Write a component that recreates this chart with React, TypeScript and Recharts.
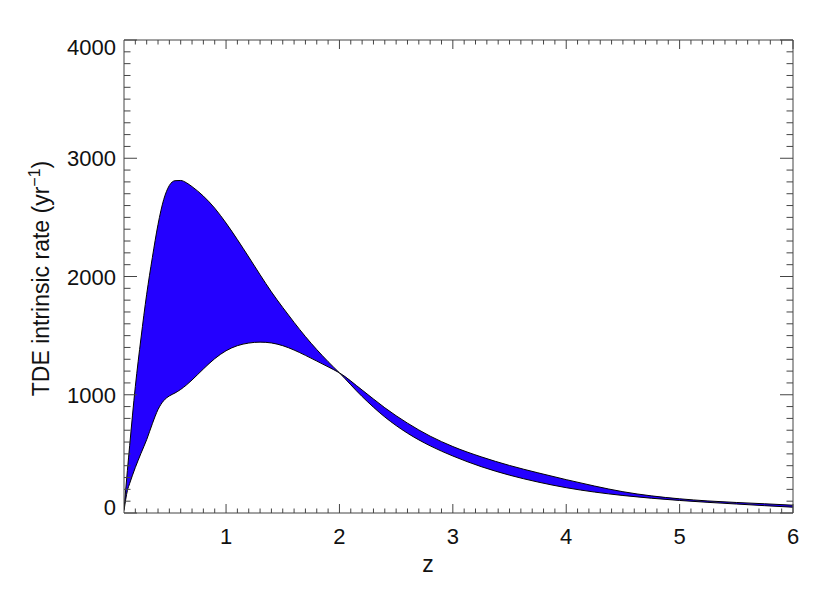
import React from 'react';
import { ComposedChart, Area, Line, XAxis, YAxis, Label } from 'recharts';

// redshift grid
const zValues = [
  0.1, 0.13, 0.15, 0.2, 0.25, 0.3, 0.35, 0.4, 0.45, 0.5, 0.55, 0.6, 0.65, 0.7, 0.8, 0.9,
  1.0, 1.1, 1.2, 1.3, 1.4, 1.5, 1.6, 1.7, 1.8, 1.9, 2.0, 2.2, 2.4, 2.6, 2.8, 3.0,
  3.25, 3.5, 3.75, 4.0, 4.25, 4.5, 4.75, 5.0, 5.25, 5.5, 5.75, 6.0,
];

// curve with the tall early peak
const highPeak = [
  30, 360, 570, 1070, 1480, 1850, 2160, 2440, 2650, 2770, 2810, 2812, 2793, 2760, 2680, 2578,
  2452, 2312, 2165, 2015, 1870, 1738, 1612, 1492, 1382, 1280, 1185, 985, 812, 675, 568, 482,
  392, 320, 262, 214, 177, 148, 125, 106, 90, 76, 62, 49,
];

// curve with the broad later peak
const lowPeak = [
  20, 190, 250, 385, 505, 620, 755, 875, 950, 990, 1015, 1045, 1082, 1125, 1218, 1305,
  1372, 1415, 1437, 1445, 1438, 1415, 1378, 1333, 1285, 1236, 1185, 1040, 890, 760, 650, 562,
  475, 402, 340, 282, 228, 180, 145, 120, 102, 89, 78, 66,
];

const xMajorTicks = [1, 2, 3, 4, 5, 6];
const yMajorTicks = [0, 1000, 2000, 3000, 4000];

// minor ticks: tenths of each major step
const xTicks: number[] = [];
for (let k = 2; k <= 60; k++) xTicks.push(k / 10);
const yTicks: number[] = [];
for (let k = 0; k <= 40; k++) yTicks.push(k * 100);

const data = zValues.map((z, i) => ({
  z,
  high: highPeak[i],
  low: lowPeak[i],
  band: [lowPeak[i], highPeak[i]],
}));

const FONT = '"Liberation Sans", Arial, sans-serif';
const AXIS = '#444';
const FILL = '#2400FF';

const isMajorX = (v: number) => xMajorTicks.some((m) => Math.abs(m - v) < 1e-6);
const isMajorY = (v: number) => yMajorTicks.includes(v);

const BottomTick = (props: any) => {
  const { x, y, payload } = props;
  const major = isMajorX(payload.value);
  return (
    <g>
      <line x1={x} y1={y} x2={x} y2={y - (major ? 9 : 4.5)} stroke={AXIS} strokeWidth={1} />
      {major && (
        <text x={x} y={y + 31} textAnchor="middle" fontSize={22} fontFamily={FONT} fill="#111">
          {payload.value}
        </text>
      )}
    </g>
  );
};

const TopTick = (props: any) => {
  const { x, y, payload } = props;
  const major = isMajorX(payload.value);
  return <line x1={x} y1={y} x2={x} y2={y + (major ? 9 : 4.5)} stroke={AXIS} strokeWidth={1} />;
};

const LeftTick = (props: any) => {
  const { x, y, payload } = props;
  const major = isMajorY(payload.value);
  let shift = 0;
  if (payload.value === 0) shift = -6;
  if (payload.value === 4000) shift = 7;
  return (
    <g>
      <line x1={x} y1={y} x2={x + (major ? 13 : 6.5)} y2={y} stroke={AXIS} strokeWidth={1} />
      {major && (
        <text x={x - 8} y={y + 8 + shift} textAnchor="end" fontSize={22} fontFamily={FONT} fill="#111">
          {payload.value}
        </text>
      )}
    </g>
  );
};

const RightTick = (props: any) => {
  const { x, y, payload } = props;
  const major = isMajorY(payload.value);
  return <line x1={x} y1={y} x2={x - (major ? 13 : 6.5)} y2={y} stroke={AXIS} strokeWidth={1} />;
};

const YTitle = (props: any) => {
  const vb = props.viewBox;
  const cx = 49;
  const cy = vb.y + vb.height / 2 + 2;
  return (
    <text
      x={cx}
      y={cy}
      transform={`rotate(-90, ${cx}, ${cy})`}
      textAnchor="middle"
      fontSize={23}
      fontFamily={FONT}
      fill="#111"
    >
      TDE intrinsic rate (yr
      <tspan dy={-9} fontSize={16}>−1</tspan>
      <tspan dy={9}>)</tspan>
    </text>
  );
};

const XTitle = (props: any) => {
  const vb = props.viewBox;
  return (
    <text x={428} y={vb.y + 59} textAnchor="middle" fontSize={23} fontFamily={FONT} fill="#111">
      z
    </text>
  );
};

export default function App() {
  return (
    <div style={{ position: 'absolute', left: 0, top: 0, background: '#fff' }}>
      <ComposedChart width={830} height={593} data={data} margin={{ top: 39, right: 36, bottom: 0, left: 0 }}>
        <XAxis
          dataKey="z"
          type="number"
          domain={[0.1, 6]}
          allowDataOverflow
          ticks={xTicks}
          interval={0}
          tickSize={0}
          tickMargin={0}
          tickLine={false}
          tick={BottomTick}
          axisLine={{ stroke: AXIS }}
          height={80}
        >
          <Label content={XTitle} />
        </XAxis>
        <XAxis
          xAxisId="top"
          orientation="top"
          dataKey="z"
          type="number"
          domain={[0.1, 6]}
          allowDataOverflow
          ticks={xTicks}
          interval={0}
          tickSize={0}
          tickMargin={0}
          tickLine={false}
          tick={TopTick}
          axisLine={{ stroke: AXIS }}
          height={1}
        />
        <YAxis
          type="number"
          domain={[0, 4000]}
          allowDataOverflow
          ticks={yTicks}
          interval={0}
          tickSize={0}
          tickMargin={0}
          tickLine={false}
          tick={LeftTick}
          axisLine={{ stroke: AXIS }}
          width={124}
        >
          <Label content={YTitle} />
        </YAxis>
        <YAxis
          yAxisId="right"
          orientation="right"
          type="number"
          domain={[0, 4000]}
          allowDataOverflow
          ticks={yTicks}
          interval={0}
          tickSize={0}
          tickMargin={0}
          tickLine={false}
          tick={RightTick}
          axisLine={{ stroke: AXIS }}
          width={1}
        />
        <Area
          type="monotone"
          dataKey="band"
          fill={FILL}
          fillOpacity={1}
          stroke="none"
          isAnimationActive={false}
        />
        <Line type="monotone" dataKey="high" stroke="#000" strokeWidth={1} dot={false} isAnimationActive={false} />
        <Line type="monotone" dataKey="low" stroke="#000" strokeWidth={1} dot={false} isAnimationActive={false} />
      </ComposedChart>
    </div>
  );
}
